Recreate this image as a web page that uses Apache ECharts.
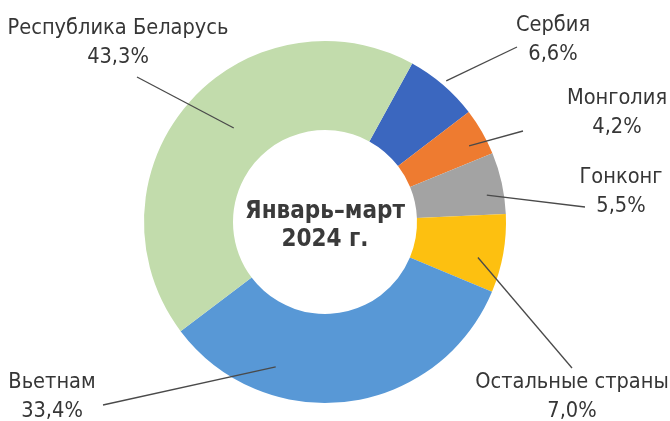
<!DOCTYPE html>
<html>
<head>
<meta charset="utf-8">
<script src="https://cdn.jsdelivr.net/npm/echarts@6/dist/echarts.min.js"></script>
<style>
html,body{margin:0;padding:0;background:#fff;}
#chart{width:670px;height:421px;}
</style>
</head>
<body>
<div id="chart"></div>
<script>
const categories = ['Сербия', 'Монголия', 'Гонконг', 'Остальные страны', 'Вьетнам', 'Республика Беларусь'];
const shares = [6.6, 4.2, 5.5, 7.0, 33.4, 43.3];
const centerTitle = ['Январь–март', '2024 г.'];

const colors = ['#3b67bf', '#ee7b30', '#a3a3a3', '#fdc010', '#5898d6', '#c2dcac'];
// label block centres and leader-line layout (styling only)
const labelPos = [[553, 40], [617, 113], [621, 192], [572, 397], [52, 397], [118, 43]];
const lineEndOffset = [[-36, 7], [-94, 18], [-36, 15], [0, -29], [51, 8], [19, 34]];
const lineStartR = [186, 163, 164, 157, 153, 131];
const lineStartTurn = [0, 2, 3, 3, 26, 5];
const CX = 325, CY = 222, GUIDE_R = 150;
const FONT = '"DejaVu Sans Condensed", "Roboto", sans-serif';

const chart = echarts.init(document.getElementById('chart'), null, {renderer: 'canvas'});
const data = categories.map((c, i) => ({name: c, value: shares[i]}));

chart.setOption({
  animation: false,
  color: colors,
  graphic: [{
    type: 'text', x: CX, y: 226, z: 10,
    style: {
      text: centerTitle.join('\n'), align: 'center', verticalAlign: 'middle',
      fontFamily: FONT, fontSize: 24, fontWeight: 'bold', lineHeight: 28, fill: '#3a3a3a'
    }
  }],
  series: [
    {
      type: 'pie',
      center: [CX, CY],
      radius: [92, 181],
      startAngle: 61.2,
      clockwise: true,
      label: {show: false},
      labelLine: {show: false},
      data: data,
      z: 1
    },
    {
      type: 'pie',
      center: [CX, CY],
      radius: [0, GUIDE_R],
      startAngle: 61.2,
      clockwise: true,
      silent: true,
      itemStyle: {color: 'rgba(0,0,0,0)'},
      data: data,
      z: 3,
      label: {
        show: true,
        overflow: 'none',
        formatter: p => p.name + '\n' + p.value.toFixed(1).replace('.', ',') + '%',
        fontFamily: FONT,
        fontSize: 21.6,
        lineHeight: 29,
        color: '#363636',
        align: 'center'
      },
      labelLine: {show: true, length: 10, length2: 0, lineStyle: {color: '#4a4a4a', width: 1.3}},
      labelLayout: function (params) {
        const i = params.dataIndex;
        const p = labelPos[i];
        const s = params.labelLinePoints[0];
        const theta = Math.atan2(s[0] - CX, -(s[1] - CY)) + lineStartTurn[i] * Math.PI / 180;
        const r = lineStartR[i];
        const start = [CX + r * Math.sin(theta), CY - r * Math.cos(theta)];
        const end = [p[0] + lineEndOffset[i][0], p[1] + lineEndOffset[i][1]];
        return {x: p[0], y: p[1], align: 'center', verticalAlign: 'middle', labelLinePoints: [start, end]};
      }
    }
  ]
});
</script>
</body>
</html>
